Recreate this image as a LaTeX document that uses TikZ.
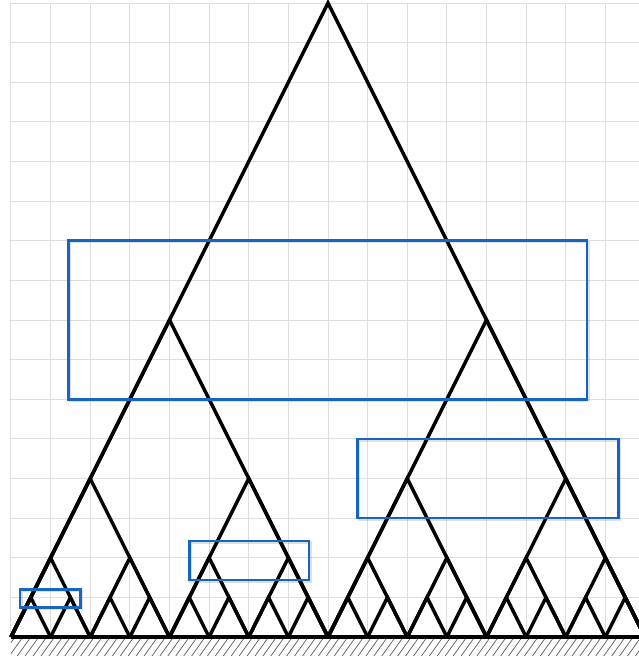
\documentclass[tikz,border=0pt]{standalone}
\usepackage{tikz}
\usetikzlibrary{calc}
\definecolor{boxblue}{RGB}{22,102,192}
\definecolor{gridgray}{RGB}{222,222,222}
\definecolor{hatchgray}{RGB}{90,90,90}
\tikzset{
  gridline/.style={draw=gridgray,line width=0.7pt},
  truss/.style={draw=black,line width=2.45pt},
  ground/.style={draw=black,line width=2.8pt},
  hatchline/.style={draw=hatchgray,line width=0.5pt},
  hilite/.style={draw=boxblue,line width=1.9pt},
  hiliteshadow/.style={draw=black,opacity=0.12,line width=1.9pt},
}

\begin{document}
\begin{tikzpicture}
  \useasboundingbox (-0.277,-0.554) rectangle (15.844,16.076);
  % background grid
  \draw[gridline] (0,0) grid (15.844,16);
  % hatched ground
  \begin{scope}
    \clip (0,-0.47) rectangle (15.844,-0.03);
    \foreach \i in {0,...,85}
      \draw[hatchline] ({\i*0.2-0.8},-0.7) -- ++(0.5,0.7);
  \end{scope}
  % nested triangles, widths 16 down to 1
  \foreach \w/\n in {16/1,8/2,4/4,2/8,1/16}{
    \foreach \k in {1,...,\n}
      \draw[truss] ({(\k-1)*\w},0) -- ({(\k-0.5)*\w},\w) -- ({\k*\w},0);
  }
  \draw[ground] (0,0) -- (15.9,0);
  % highlighted bands
  \foreach \ax/\ay/\bx/\by in {1.45/6/14.54/10, 8.75/3/15.33/5,
                               4.5/1.44/7.52/2.42, 0.23/0.74/1.76/1.2}{
    \draw[hiliteshadow] ($(\ax,\ay)+(0.035,-0.035)$) rectangle ($(\bx,\by)+(0.035,-0.035)$);
    \draw[hilite] (\ax,\ay) rectangle (\bx,\by);
  }
\end{tikzpicture}
\end{document}
